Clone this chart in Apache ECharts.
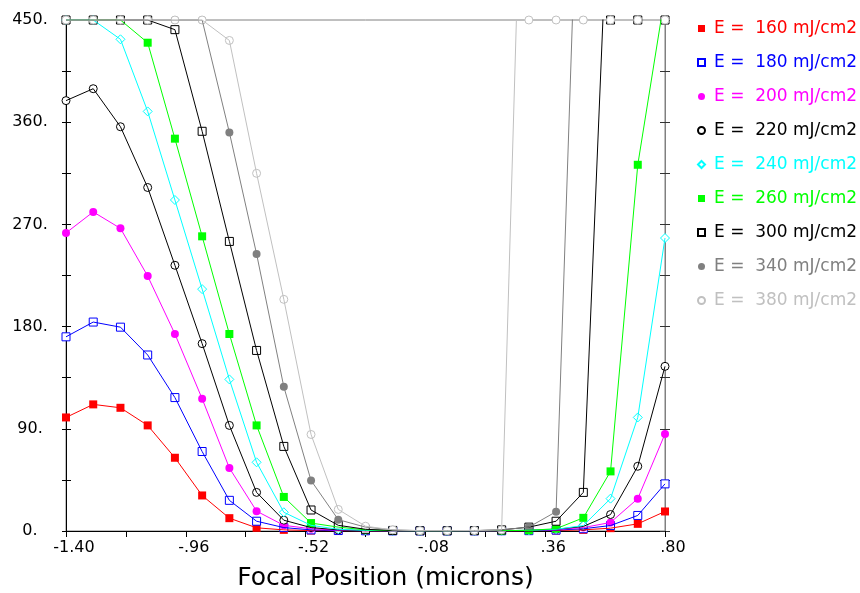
<!DOCTYPE html>
<html>
<head>
    <meta charset="utf-8">
    <title>Focal Position</title>
    <script src="https://cdn.jsdelivr.net/npm/echarts@6/dist/echarts.min.js"></script>
</head>
<body style="margin:0">
<div id="chart" style="width: 860px; height: 593px;"></div>
<script>
    // x positions of the data points (microns)
    var focalPos = [-1.4, -1.3, -1.2, -1.1, -1.0, -0.9, -0.8, -0.7, -0.6, -0.5, -0.4, -0.3,
                    -0.2, -0.1, 0.0, 0.1, 0.2, 0.3, 0.4, 0.5, 0.6, 0.7, 0.8];
    // tick labels of the bottom axis (every other one is shown)
    var xTickLabels = ['-1.40', '-1.18', '-.96', '-.74', '-.52', '-.30', '-.08', '.14', '.36', '.58', '.80'];
    var yLabelValues = [0, 90, 180, 270, 360, 450];

    var names = ['E =  160 mJ/cm2', 'E =  180 mJ/cm2', 'E =  200 mJ/cm2', 'E =  220 mJ/cm2', 'E =  240 mJ/cm2',
                 'E =  260 mJ/cm2', 'E =  300 mJ/cm2', 'E =  340 mJ/cm2', 'E =  380 mJ/cm2'];

    // values (above 450 = off the top of the frame)
    var e160 = [100, 111.5, 108.5, 93, 64.5, 31.3, 11.3, 2.8, 1, 0.4, 0.2, 0.1, 0.1, 0.1, 0.1, 0.1, 0.1, 0.2, 0.4, 1, 2.5, 6.3, 17.2];
    var e180 = [171, 184, 179.5, 155, 117.5, 70, 27, 8.6, 3, 1, 0.4, 0.2, 0.1, 0.1, 0.1, 0.1, 0.2, 0.3, 0.8, 2, 4.8, 13.7, 41.5];
    var e200 = [262.5, 281, 266.5, 224.5, 173.5, 116.5, 55.5, 17.5, 5, 2, 0.6, 0.2, 0.1, 0.1, 0.1, 0.1, 0.2, 0.4, 1.2, 3, 7.5, 28.5, 85.5];
    var e220 = [379, 389.5, 356, 302.5, 234, 165, 93, 34, 9.5, 3, 1, 0.4, 0.2, 0.1, 0.1, 0.2, 0.3, 0.6, 1.5, 4, 14.5, 57, 145];
    var e240 = [450, 450, 433, 369.5, 291.5, 213, 133.5, 60.5, 16.5, 5, 1.5, 0.5, 0.2, 0.1, 0.1, 0.2, 0.3, 0.6, 1.5, 4.8, 28.5, 100, 258];
    var e260 = [450, 450, 450, 430, 345.5, 259.5, 173.5, 93, 30, 7, 3.4, 1, 0.3, 0.1, 0.1, 0.2, 0.3, 0.6, 2, 11.6, 52.5, 322.5, 472];
    var e300 = [450, 450, 450, 450, 441.5, 352, 255, 159, 74.5, 18.5, 5, 1.5, 0.5, 0.2, 0.2, 0.3, 1, 3.4, 8.6, 34, 612, 900, 1300];
    var e340 = [450, 450, 450, 450, 450, 450, 351, 244, 127, 44.5, 10, 3.4, 1, 0.3, 0.3, 0.3, 1, 3.4, 17, 740, 1100, 1500, 2000];
    var e380 = [450, 450, 450, 450, 450, 450, 432, 315, 204, 85, 19, 4.2, 1, 0.3, 0.3, 0.5, 1, 830, 1500, 2200, 3000, 3800, 4600];

    var allValues = [e160, e180, e200, e220, e240, e260, e300, e340, e380];
    var colors = ['#ff0000', '#0000ff', '#ff00ff', '#000000', '#00ffff', '#00ff00', '#000000', '#808080', '#c0c0c0'];
    var symbols = ['rect', 'rect', 'circle', 'circle', 'diamond', 'rect', 'rect', 'circle', 'circle'];
    var hollow = [false, true, false, true, true, false, true, false, true];

    var font = 'DejaVu Sans';
    var yMax = 450;

    var series = [];
    allValues.forEach(function (vals, i) {
        // the line itself, clipped by the frame
        series.push({
            name: names[i] + ' line',
            type: 'line',
            symbol: 'none',
            clip: true,
            lineStyle: { color: colors[i], width: 1 },
            data: vals.map(function (v, k) { return [focalPos[k], v]; })
        });
        // markers, saturated ones sit on the top edge
        series.push({
            name: names[i],
            type: 'scatter',
            symbol: symbols[i],
            symbolSize: symbols[i] === 'diamond' ? 9 : 8,
            clip: false,
            itemStyle: hollow[i]
                ? { color: '#ffffff', borderColor: colors[i], borderWidth: 1, opacity: 1 }
                : { color: colors[i], opacity: 1 },
            data: vals.map(function (v, k) { return [focalPos[k], Math.min(v, yMax)]; })
        });
    });

    var myChart = echarts.init(document.getElementById('chart'));

    function yAxisBase(pos) {
        return {
            type: 'value',
            min: 0, max: yMax, interval: 45,
            position: pos,
            axisLabel: { show: false },
            splitLine: { show: false }
        };
    }

    var yLeft = yAxisBase('left');
    yLeft.axisLine = { show: true, onZero: false, lineStyle: { color: '#000', width: 1 } };
    yLeft.axisTick = { show: true, length: 4, lineStyle: { color: '#000' } };
    yLeft.axisLabel = {
        color: '#000',
        fontFamily: font,
        fontSize: 16,
        align: 'center',
        margin: 36,
        formatter: function (v) {
            return yLabelValues.indexOf(v) >= 0 ? v + '.' : '';
        }
    };

    var yLeftIn = yAxisBase('left');
    yLeftIn.axisLine = { show: false, onZero: false };
    yLeftIn.axisTick = { show: true, inside: true, length: 5, lineStyle: { color: '#000' } };

    var yRight = yAxisBase('right');
    yRight.axisLine = { show: true, onZero: false, lineStyle: { color: '#808080', width: 1 } };
    yRight.axisTick = { show: true, length: 5, lineStyle: { color: '#333' } };

    var yRightIn = yAxisBase('right');
    yRightIn.axisLine = { show: false, onZero: false };
    yRightIn.axisTick = { show: true, inside: true, length: 5, lineStyle: { color: '#333' } };

    var option = {
        animation: false,
        grid: {
            left: 66, right: 195, top: 20, bottom: 62,
            outerBoundsMode: 'none',
            show: true, borderColor: '#808080', borderWidth: 1
        },
        legend: {
            orient: 'vertical',
            left: 692,
            top: 15,
            itemWidth: 7,
            itemHeight: 7,
            itemGap: 17,
            textStyle: { fontFamily: font, fontSize: 17, padding: [0, 0, 0, 4] },
            data: names.map(function (n, i) {
                return { name: n, textStyle: { color: colors[i] } };
            })
        },
        xAxis: [{
            type: 'value',
            min: -1.4,
            max: 0.8,
            position: 'top',
            show: false
        }, {
            type: 'category',
            data: xTickLabels,
            boundaryGap: false,
            position: 'bottom',
            axisLine: { onZero: false, lineStyle: { color: '#000', width: 1 } },
            axisTick: { interval: 0, length: 6, lineStyle: { color: '#000' } },
            axisLabel: {
                interval: 1,
                color: '#000',
                fontFamily: font,
                fontSize: 16,
                margin: 9,
                padding: [0, 0, 0, 16]
            },
            splitLine: { show: false },
            name: 'Focal Position (microns)',
            nameLocation: 'middle',
            nameGap: 35,
            nameTextStyle: { color: '#000', fontFamily: font, fontSize: 25, padding: [0, 0, 0, 40] }
        }],
        yAxis: [yLeft, yLeftIn, yRight, yRightIn],
        series: series
    };

    myChart.setOption(option);
</script>
</body>
</html>
